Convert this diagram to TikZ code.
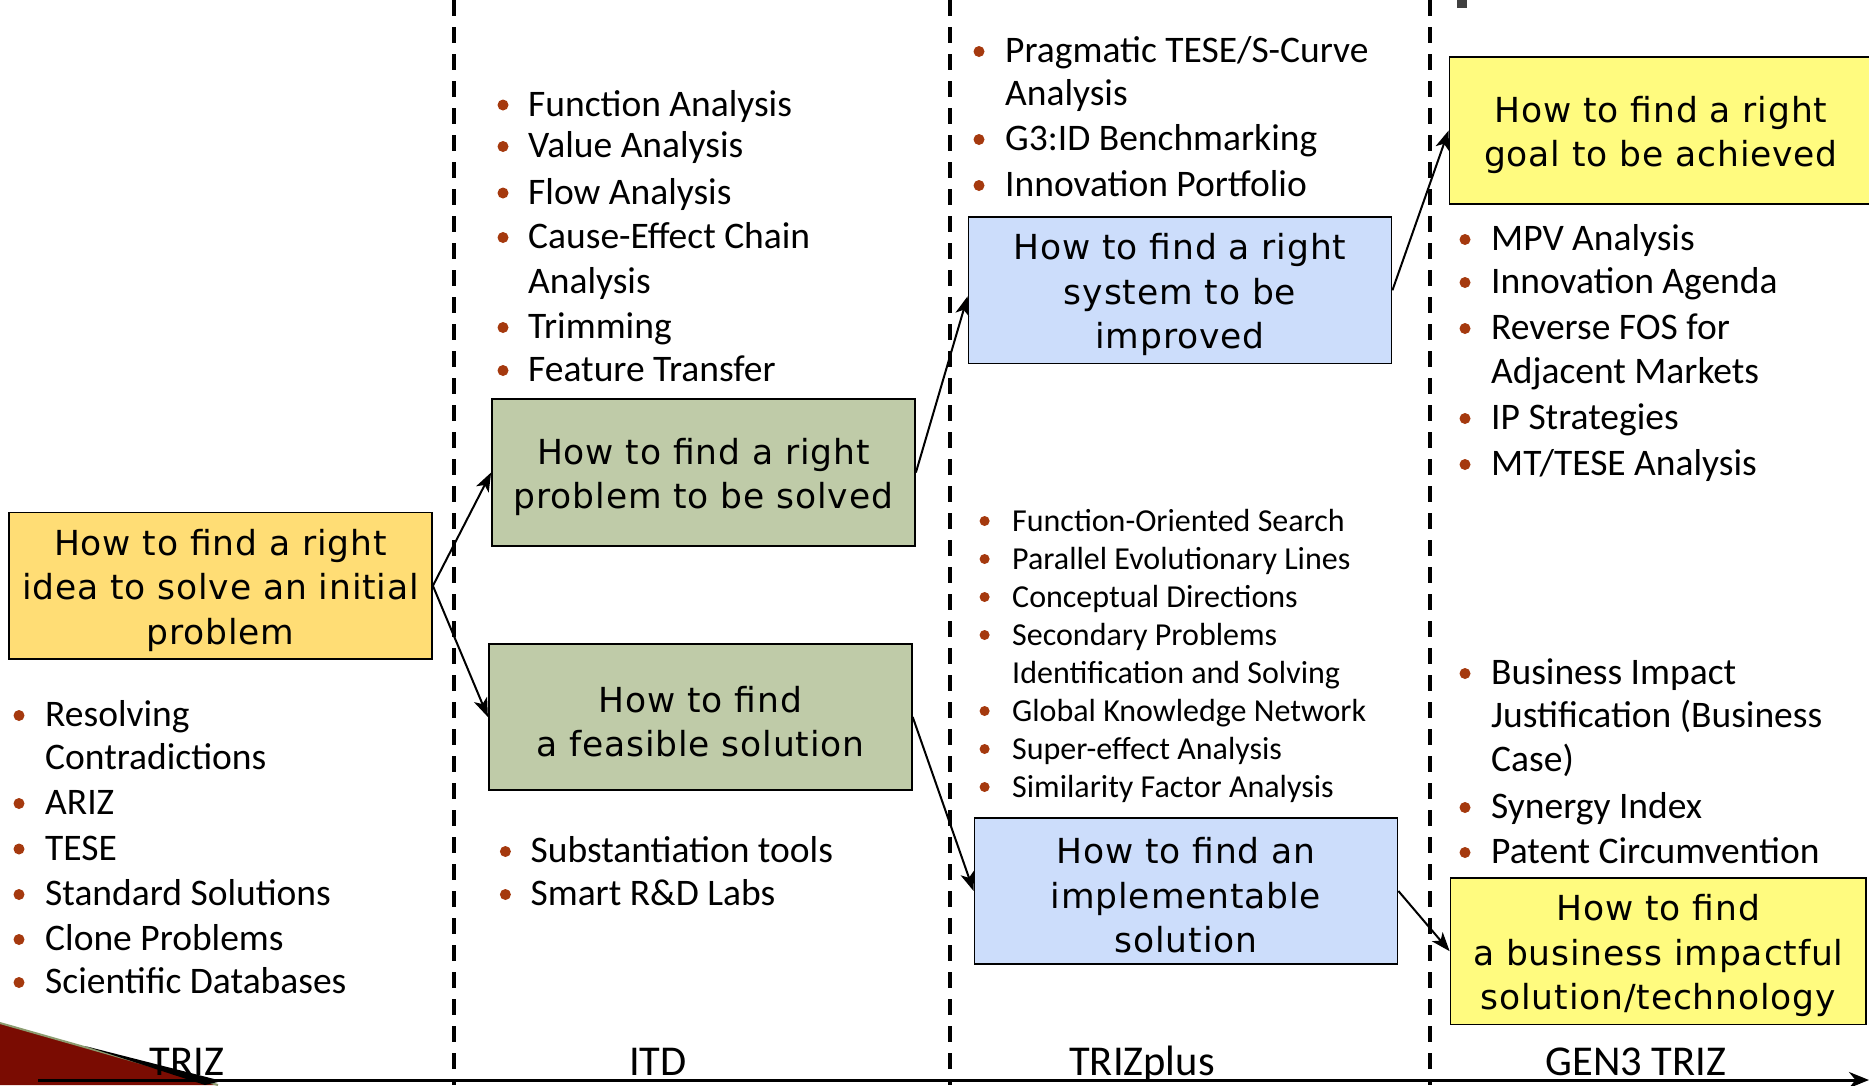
\documentclass[tikz,border=0pt]{standalone}
\usepackage{fontspec}
\setmainfont{Carlito}
\newfontfamily\boxfont[LetterSpace=2.5]{DejaVu Sans}
\usetikzlibrary{arrows.meta}
\newcommand{\tup}{\rule{0pt}{35pt}}
\definecolor{bulc}{HTML}{A5390E}
\definecolor{orangebox}{HTML}{FFDD75}
\definecolor{greenbox}{HTML}{BFCBA8}
\definecolor{bluebox}{HTML}{CCDDFB}
\definecolor{yellowbox}{HTML}{FFFB7F}
\definecolor{darkred}{HTML}{7A0C02}
\definecolor{olive}{HTML}{8C9C70}
\begin{document}
\begin{tikzpicture}[x=1pt,y=-1pt,
  box/.style={draw=black,line width=1.8pt,minimum width=423pt,minimum height=146.5pt,inner sep=0pt,align=center,font=\boxfont\fontsize{34.5}{44.5}\selectfont},
  li/.style={anchor=base west,inner sep=0pt,font=\fontsize{37.5}{44}\selectfont},
  lis/.style={anchor=base west,inner sep=0pt,font=\fontsize{32}{38}\selectfont},
  lab/.style={anchor=base,inner sep=0pt,font=\fontsize{42.5}{48}\selectfont},
  con/.style={line width=2pt,-{Stealth[length=19pt,width=14pt,inset=5pt]}},
  sep/.style={line width=4pt,dash pattern=on 16pt off 11pt},
  bul/.style={fill=bulc},
]
\useasboundingbox (0,0) rectangle (1869,1085);
\fill[white] (0,0) rectangle (1869,1085);

% decoration at bottom-left
\fill[darkred] (0,1023) -- (218,1085) -- (0,1085) -- cycle;
\draw[olive,line width=2pt] (0,1023) -- (218,1085);
\fill[black] (85,1046) -- (222,1081) -- (205,1085) -- cycle;
% small mark at top
\fill[black!75] (1457,0) rectangle (1467,8);

% separators
\draw[sep] (454,0) -- (454,1085);
\draw[sep] (950,0) -- (950,1085);
\draw[sep] (1430,0) -- (1430,1085);

% axis
\coordinate (ax0) at (38,1080);
\coordinate (ax1) at (1869,1080);
\draw[line width=3pt,-{Stealth[length=20pt,width=16pt]}] (ax0) -- (ax1);

% boxes
\node[box,fill=orangebox] (b1) at (220.5,585.8) {\tup How to find a right\\idea to solve an initial\\problem};
\node[box,fill=greenbox] (b2) at (703.5,472.5) {\tup How to find a right\\problem to be solved};
\node[box,fill=greenbox] (b3) at (700.3,717) {\tup How to find\\ a feasible solution};
\node[box,fill=bluebox] (b4) at (1180,290.3) {\tup How to find a right\\system to be\\improved};
\node[box,fill=bluebox] (b5) at (1186,891) {\tup How to find an\\implementable\\solution};
\node[box,fill=yellowbox] (b6) at (1661,130.5) {\tup How to find a right\\goal to be achieved};
\node[box,fill=yellowbox,minimum width=415.5pt] (b7) at (1658.3,951.2) {\tup How to find\\a business impactful\\solution/technology};

% connectors
\draw[con] (b1.east) -- (b2.west);
\draw[con] (b1.east) -- (b3.west);
\draw[con] (b2.east) -- ([yshift=-6pt]b4.west);
\draw[con] (b4.east) -- (b6.west);
\draw[con] (b3.east) -- (b5.west);
\draw[con] (b5.east) -- (b7.west);

% TRIZ list
\fill[bul] (19,715.5) circle (5.5);
\node[li] (t1) at (45,726.5) {Resolving};
\node[li] (t1b) at (45,769.5) {Contradictions};
\fill[bul] (19,803.5) circle (5.5);
\node[li] (t2) at (45,814.5) {ARIZ};
\fill[bul] (19,849) circle (5.5);
\node[li] (t3) at (45,860) {TESE};
\fill[bul] (19,894.5) circle (5.5);
\node[li] (t4) at (45,905.5) {Standard Solutions};
\fill[bul] (19,939.5) circle (5.5);
\node[li] (t5) at (45,950.5) {Clone Problems};
\fill[bul] (19,982.5) circle (5.5);
\node[li] (t6) at (45,993.5) {Scientific Databases};

% ITD top list
\fill[bul] (503,105) circle (5.5);
\node[li] (i1) at (528,116) {Function Analysis};
\fill[bul] (503,146.5) circle (5.5);
\node[li] (i2) at (528,157.5) {Value Analysis};
\fill[bul] (503,193) circle (5.5);
\node[li] (i3) at (528,204) {Flow Analysis};
\fill[bul] (503,237.5) circle (5.5);
\node[li] (i4) at (528,248.5) {Cause-Effect Chain};
\node[li] (i4b) at (528,293.5) {Analysis};
\fill[bul] (503,327.5) circle (5.5);
\node[li] (i5) at (528,338.5) {Trimming};
\fill[bul] (503,370.5) circle (5.5);
\node[li] (i6) at (528,381.5) {Feature Transfer};

% ITD bottom list
\fill[bul] (505.4,851.5) circle (5.5);
\node[li] (j1) at (530.4,862.5) {Substantiation tools};
\fill[bul] (505.4,894.5) circle (5.5);
\node[li] (j2) at (530.4,905.5) {Smart R\&D Labs};

% TRIZplus top list
\fill[bul] (979,51.5) circle (5.5);
\node[li] (p1) at (1005,62.5) {Pragmatic TESE/S-Curve};
\node[li] (p1b) at (1005,105.5) {Analysis};
\fill[bul] (979,139.5) circle (5.5);
\node[li] (p2) at (1005,150.5) {G3:ID Benchmarking};
\fill[bul] (979,185.5) circle (5.5);
\node[li] (p3) at (1005,196.5) {Innovation Portfolio};

% TRIZplus middle list
\fill[bul] (984.6,521) circle (5);
\node[lis] (m1) at (1012,531) {Function-Oriented Search};
\fill[bul] (984.6,559) circle (5);
\node[lis] (m2) at (1012,569) {Parallel Evolutionary Lines};
\fill[bul] (984.6,597) circle (5);
\node[lis] (m3) at (1012,607) {Conceptual Directions};
\fill[bul] (984.6,635) circle (5);
\node[lis] (m4) at (1012,645) {Secondary Problems};
\node[lis] (m4b) at (1012,683) {Identification and Solving};
\fill[bul] (984.6,711) circle (5);
\node[lis] (m5) at (1012,721) {Global Knowledge Network};
\fill[bul] (984.6,749) circle (5);
\node[lis] (m6) at (1012,759) {Super-effect Analysis};
\fill[bul] (984.6,787) circle (5);
\node[lis] (m7) at (1012,797) {Similarity Factor Analysis};

% GEN3 top list
\fill[bul] (1465,239.5) circle (5.5);
\node[li] (g1) at (1491,250.5) {MPV Analysis};
\fill[bul] (1465,282.5) circle (5.5);
\node[li] (g2) at (1491,293.5) {Innovation Agenda};
\fill[bul] (1465,328.5) circle (5.5);
\node[li] (g3) at (1491,339.5) {Reverse FOS for};
\node[li] (g3b) at (1491,383.5) {Adjacent Markets};
\fill[bul] (1465,418.5) circle (5.5);
\node[li] (g4) at (1491,429.5) {IP Strategies};
\fill[bul] (1465,464.5) circle (5.5);
\node[li] (g5) at (1491,475.5) {MT/TESE Analysis};

% GEN3 bottom list
\fill[bul] (1465,673.5) circle (5.5);
\node[li] (h1) at (1491,684.5) {Business Impact};
\node[li] (h1b) at (1491,727.5) {Justification (Business};
\node[li] (h1c) at (1491,771.5) {Case)};
\fill[bul] (1465,807.5) circle (5.5);
\node[li] (h2) at (1491,818.5) {Synergy Index};
\fill[bul] (1465,852.5) circle (5.5);
\node[li] (h3) at (1491,863.5) {Patent Circumvention};

% axis labels
\node[lab] (l1) at (187,1075) {TRIZ};
\node[lab] (l2) at (658,1075) {ITD};
\node[lab] (l3) at (1142,1075) {TRIZplus};
\node[lab] (l4) at (1636,1075) {GEN3 TRIZ};
\end{tikzpicture}
\end{document}
